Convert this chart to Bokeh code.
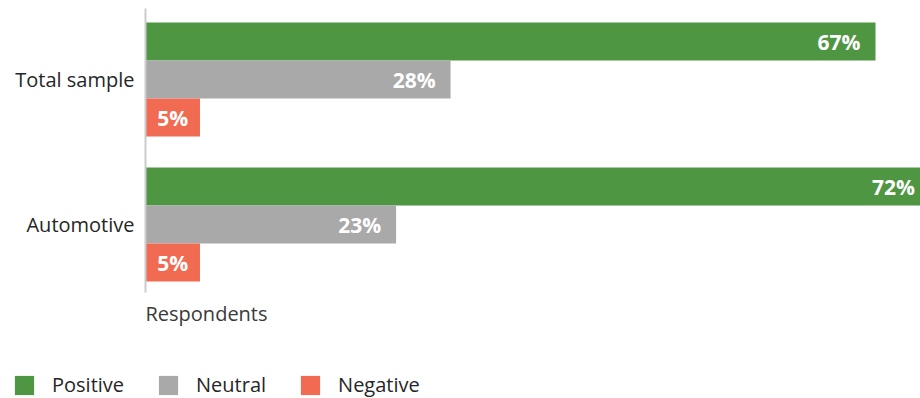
from bokeh.plotting import figure
from bokeh.layouts import column
from bokeh.models import ColumnDataSource, Range1d, FixedTicker, Legend, LegendItem, Title
from bokeh.core.properties import value
from bokeh.embed import file_html
from bokeh.resources import INLINE

categories = ["Total sample", "Automotive"]
series = ["Positive", "Neutral", "Negative"]
positive = [67, 72]
neutral = [28, 23]
negative = [5, 5]
colors = ["#4f9643", "#a9a9a9", "#f06b52"]
axis_title = "Respondents"

FONT = "Open Sans"
TXT = "#262626"

W = 920
H_MAIN, H_LEG = 340, 58
BL, BT = 145, 8
FRAME_BOTTOM = 292
BB = H_MAIN - FRAME_BOTTOM
frame_w = W - BL
group_px = 145.0
bar_px = 38.0
px_per_unit = 730.0 / 67.0

p = figure(width=W, height=H_MAIN, output_backend="svg", toolbar_location=None,
           x_range=Range1d(0, frame_w / px_per_unit),
           y_range=Range1d(1 + 68 / group_px, -71 / group_px),
           min_border_left=BL, min_border_right=0, min_border_top=BT, min_border_bottom=BB,
           outline_line_color=None)
p.frame_align = False
p.xgrid.visible = False
p.ygrid.visible = False
p.xaxis.visible = False

yax = p.yaxis[0]
yax.ticker = FixedTicker(ticks=list(range(len(categories))))
yax.major_label_overrides = {i: c for i, c in enumerate(categories)}
yax.major_tick_line_color = None
yax.minor_tick_line_color = None
yax.axis_line_color = "#cccccc"
yax.axis_line_width = 2
yax.major_label_text_font = FONT
yax.major_label_text_font_size = "20px"
yax.major_label_text_color = TXT
yax.major_label_standoff = 5

# legend strip (separate small figure below the chart)
lg = figure(width=W, height=H_LEG, output_backend="svg", toolbar_location=None,
            x_range=Range1d(0, 1), y_range=Range1d(1000, 1001),
            x_axis_location=None, y_axis_location=None,
            min_border_left=0, min_border_right=0, min_border_top=0, min_border_bottom=0,
            outline_line_color=None)
lg.frame_align = False
lg.xgrid.visible = False
lg.ygrid.visible = False

values = [positive, neutral, negative]
bh = bar_px / group_px
items = []
for j, (vals, col) in enumerate(zip(values, colors)):
    off = (j - 1) * bh
    ys = [i + off for i in range(len(categories))]
    src = ColumnDataSource(dict(y=ys, right=vals))
    p.hbar(y="y", left=0, right="right", height=bh, source=src,
           fill_color=col, line_color=None)
    # same data in the legend strip, outside its visible range: only the key swatch shows
    rl = lg.hbar(y="y", left=0, right="right", height=bh, source=src,
                 fill_color=col, line_color=None)
    items.append(LegendItem(label=series[j], renderers=[rl]))
    big = [(v, y) for v, y in zip(vals, ys) if v * px_per_unit >= 70]
    small = [(v, y) for v, y in zip(vals, ys) if v * px_per_unit < 70]
    if big:
        s1 = ColumnDataSource(dict(x=[b[0] for b in big], y=[b[1] for b in big],
                                   t=[f"{b[0]}%" for b in big]))
        p.text(x="x", y="y", text="t", source=s1, x_offset=-15,
               text_align="right", text_baseline="middle",
               text_font=value(FONT), text_font_size="21px", text_font_style="bold",
               text_color="white")
    if small:
        s2 = ColumnDataSource(dict(x=[b[0] / 2 for b in small], y=[b[1] for b in small],
                                   t=[f"{b[0]}%" for b in small]))
        p.text(x="x", y="y", text="t", source=s2,
               text_align="center", text_baseline="middle",
               text_font=value(FONT), text_font_size="21px", text_font_style="bold",
               text_color="white")

p.add_layout(Title(text=axis_title, align="left", text_font=FONT, text_font_size="20px",
                   text_font_style="normal", text_color="#3a3a3a"), "below")

legend = Legend(items=items, orientation="horizontal", location=(12, 0),
                glyph_width=24, glyph_height=24, label_standoff=16, spacing=32,
                padding=0, margin=0, border_line_color=None, background_fill_alpha=0,
                label_text_font=FONT, label_text_font_size="20px", label_text_color=TXT,
                label_height=24)
lg.add_layout(legend, "center")

layout = column(p, lg, spacing=0)
open("out.html", "w").write(file_html(layout, INLINE))
